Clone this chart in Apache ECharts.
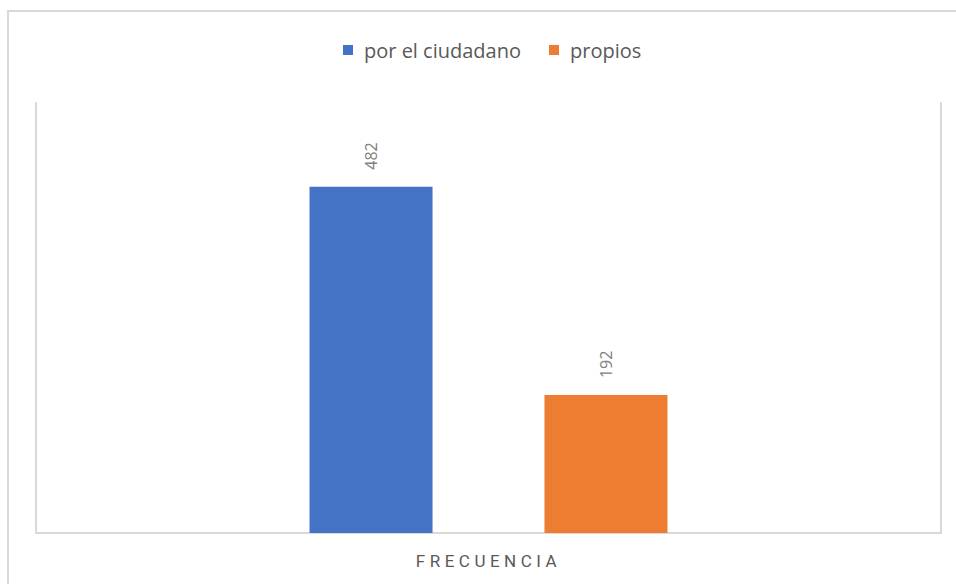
<!DOCTYPE html>
<html>
<head>
<meta charset="utf-8">
<script src="https://cdn.jsdelivr.net/npm/echarts@6/dist/echarts.min.js"></script>
<style>
html,body{margin:0;padding:0;background:#fff;}
#wrap{position:relative;width:956px;height:584px;overflow:hidden;}
#chart{position:absolute;left:0;top:0;width:956px;height:584px;}
#frame{position:absolute;left:7px;top:10px;width:980px;height:600px;border:2px solid #d9d9d9;pointer-events:none;}
</style>
</head>
<body>
<div id="wrap"><div id="chart"></div><div id="frame"></div></div>
<script>
const categories = ['FRECUENCIA'];
const seriesNames = ['por el ciudadano', 'propios'];
const ciudadanoValues = [482];
const propiosValues = [192];
const colors = ['#4472c4', '#ed7d31'];

const chart = echarts.init(document.getElementById('chart'), null, {renderer: 'svg'});
const labelCfg = {
  show: true, position: 'top', rotate: 90, align: 'left', verticalAlign: 'middle',
  distance: 17, color: '#808080', fontSize: 16, fontFamily: 'Open Sans'
};
chart.setOption({
  animation: false,
  color: colors,
  legend: {
    top: 35, left: 338, itemWidth: 10, itemHeight: 10, itemGap: 28, icon: 'rect',
    textStyle: {color: '#595959', fontSize: 20, fontFamily: 'Open Sans', padding: [0, 0, 0, 6]},
    data: seriesNames
  },
  grid: {left: 36, right: 15, top: 102, bottom: 51, containLabel: false},
  xAxis: {
    type: 'category', data: categories, boundaryGap: true,
    axisLine: {show: true, lineStyle: {color: '#d9d9d9', width: 2}},
    axisTick: {show: false},
    splitLine: {show: true, lineStyle: {color: '#d9d9d9', width: 2}},
    axisLabel: {color: '#595959', fontSize: 17, fontFamily: 'Roboto', margin: 19}
  },
  yAxis: {
    type: 'value', min: 0, max: 600, show: false, splitLine: {show: false}
  },
  series: [
    {name: seriesNames[0], type: 'bar', data: ciudadanoValues, barWidth: 123, barGap: '91%', label: labelCfg},
    {name: seriesNames[1], type: 'bar', data: propiosValues, barWidth: 123, barGap: '91%', label: labelCfg}
  ]
});
function spaceLetters(){
  document.querySelectorAll('#chart svg text').forEach(function(t){
    if (t.textContent === categories[0]) { t.style.letterSpacing = '4.5px'; }
  });
}
spaceLetters();
chart.on('finished', spaceLetters);
</script>
</body>
</html>
